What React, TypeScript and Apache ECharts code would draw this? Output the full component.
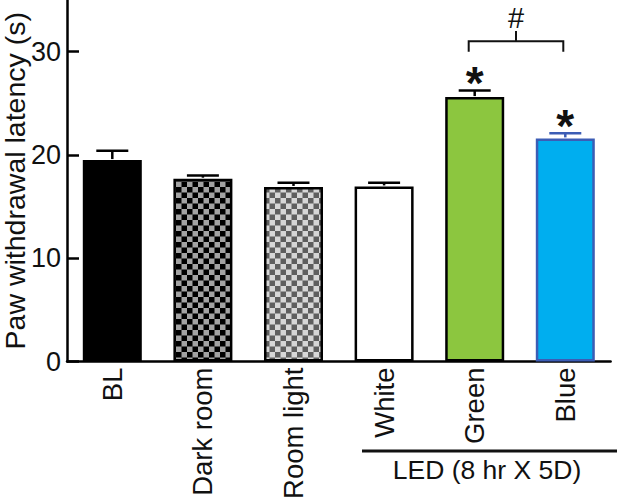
import React, { useEffect, useRef } from "react";
import * as echarts from "echarts";

const categories = ["BL", "Dark room", "Room light", "White", "Green", "Blue"];
const means = [19.5, 17.7, 16.9, 16.95, 25.6, 21.6];
const sems = [0.9, 0.3, 0.4, 0.35, 0.65, 0.5];
const yTicks = [0, 10, 20, 30];
const significant = ["Green", "Blue"];
const bracketPair = ["Green", "Blue"];
const bracketLevels = [30, 31, 32]; // feet, bar, stem top
const bracketMark = "#";
const groupLabel = "LED (8 hr X 5D)";
const yAxisName = "Paw withdrawal latency (s)";

const FONT = "Liberation Sans, Arial, Helvetica, sans-serif";
const BLUE_EDGE = "#3c5db5";

function makeChecker(c1: string, c2: string) {
  const cv = document.createElement("canvas");
  cv.width = 22;
  cv.height = 22;
  const ctx = cv.getContext("2d")!;
  ctx.fillStyle = c1;
  ctx.fillRect(0, 0, 22, 22);
  ctx.fillStyle = c2;
  ctx.fillRect(0, 0, 11, 11);
  ctx.fillRect(11, 11, 11, 11);
  return { image: cv, repeat: "repeat", scaleX: 0.5, scaleY: 0.5 } as any;
}

export default function App() {
  const ref = useRef<HTMLDivElement>(null);
  useEffect(() => {
    document.body.style.margin = "0";
    const chart = echarts.init(ref.current!, null, { renderer: "svg" });
    const fills: any[] = [
      { color: "#000000", borderColor: "#000000" },
      { color: makeChecker("#a3a3a3", "#000000"), borderColor: "#000000" },
      { color: makeChecker("#d6d6d6", "#5e5e5e"), borderColor: "#000000" },
      { color: "#ffffff", borderColor: "#000000" },
      { color: "#8cc63f", borderColor: "#000000" },
      { color: "#00aeef", borderColor: BLUE_EDGE },
    ];
    const edge = (i: number) => (categories[i] === "Blue" ? BLUE_EDGE : "#000000");
    const option: any = {
      animation: false,
      textStyle: { fontFamily: FONT },
      grid: { left: 67, right: 6.4, top: 0, bottom: 139.5, containLabel: false, outerBoundsMode: "none" },
      xAxis: {
        type: "category",
        data: categories,
        axisLine: { show: true, lineStyle: { color: "#000", width: 2.5 } },
        axisTick: { show: false },
        axisLabel: { rotate: 90, fontSize: 27.5, color: "#111", margin: 6, fontFamily: FONT },
      },
      yAxis: {
        type: "value",
        min: 0,
        max: 35,
        interval: 10,
        name: yAxisName,
        nameLocation: "middle",
        nameGap: 39,
        nameMoveOverlap: false,
        nameTextStyle: { fontSize: 28.5, lineHeight: 26, color: "#111", fontFamily: FONT },
        axisLine: { show: true, lineStyle: { color: "#000", width: 2.5 } },
        axisTick: { show: true, inside: true, length: 12, lineStyle: { color: "#000", width: 2.5 }, customValues: yTicks },
        axisLabel: { fontSize: 27, color: "#111", margin: 6, fontFamily: FONT, customValues: yTicks },
        splitLine: { show: false },
      },
      series: [
        {
          type: "bar",
          barWidth: 59,
          data: means.map((m, i) => ({
            value: m,
            itemStyle: { color: fills[i].color, borderColor: fills[i].borderColor, borderWidth: 2.5 },
          })),
          z: 2,
        },
        {
          type: "custom",
          data: means.map((m, i) => [i, m, m + sems[i]]),
          encode: { x: 0, y: [1, 2] },
          z: 3,
          renderItem: (params: any, api: any) => {
            const i = api.value(0);
            const base = api.coord([i, api.value(1)]);
            const top = api.coord([i, api.value(2)]);
            const c = edge(i);
            return {
              type: "group",
              children: [
                { type: "line", shape: { x1: base[0], y1: base[1] - 1, x2: top[0], y2: top[1] }, style: { stroke: c, lineWidth: 2.5 } },
                { type: "line", shape: { x1: top[0] - 16, y1: top[1], x2: top[0] + 16, y2: top[1] }, style: { stroke: c, lineWidth: 2.5 } },
              ],
            };
          },
        },
        {
          type: "custom",
          data: significant.map((s) => {
            const i = categories.indexOf(s);
            return [i, means[i] + sems[i]];
          }),
          encode: { x: 0, y: 1 },
          z: 4,
          renderItem: (params: any, api: any) => {
            const p = api.coord([api.value(0), api.value(1)]);
            return {
              type: "text",
              x: p[0],
              y: p[1] - 7,
              style: { text: "*", fontSize: 46, fontWeight: "bold", fill: "#111", textAlign: "center", textVerticalAlign: "middle", fontFamily: FONT },
            };
          },
        },
        {
          type: "custom",
          data: [[categories.indexOf(bracketPair[0]), categories.indexOf(bracketPair[1]), ...bracketLevels]],
          encode: { x: [0, 1], y: [2, 3, 4] },
          z: 4,
          clip: false,
          renderItem: (params: any, api: any) => {
            const a = api.value(0), b = api.value(1);
            const l1 = api.coord([a, api.value(2)]);
            const l2 = api.coord([a, api.value(3)]);
            const r1 = api.coord([b, api.value(2)]);
            const r2 = api.coord([b, api.value(3)]);
            const xl = l1[0] - 6, xr = r1[0] - 2;
            const xm = (xl + xr) / 2;
            const top = api.coord([a, api.value(4)])[1];
            return {
              type: "group",
              children: [
                { type: "polyline", shape: { points: [[xl, l1[1]], [xl, l2[1]], [xr, r2[1]], [xr, r1[1]]] }, style: { stroke: "#111", lineWidth: 2, fill: null } },
                { type: "line", shape: { x1: xm, y1: l2[1], x2: xm, y2: top }, style: { stroke: "#111", lineWidth: 2 } },
                { type: "text", x: xm, y: top + 2, style: { text: bracketMark, fontSize: 29, fill: "#111", textAlign: "center", textVerticalAlign: "bottom", fontFamily: FONT } },
              ],
            };
          },
        },
      ],
      graphic: [
        { type: "line", shape: { x1: 362, y1: 451, x2: 617, y2: 451 }, style: { stroke: "#111", lineWidth: 3 } },
        { type: "text", x: 487, y: 456, style: { text: groupLabel, fontSize: 26.5, fill: "#111", textAlign: "center", textVerticalAlign: "top", fontFamily: FONT } },
      ],
    };
    chart.setOption(option);
    return () => chart.dispose();
  }, []);
  return <div ref={ref} style={{ position: "absolute", left: 0, top: 0, width: 617, height: 501 }} />;
}
